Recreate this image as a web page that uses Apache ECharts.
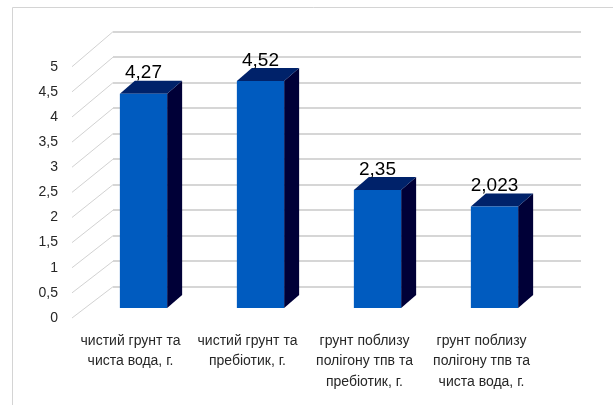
<!DOCTYPE html>
<html>
<head>
<meta charset="utf-8">
<script src="https://cdn.jsdelivr.net/npm/echarts@6/dist/echarts.min.js"></script>
<style>
  html, body { margin: 0; padding: 0; background: #ffffff; }
  #chart { width: 613px; height: 405px; }
</style>
</head>
<body>
<div id="chart"></div>
<script>
// Categories and measured values
const categories = [
  'чистий грунт та\nчиста вода, г.',
  'чистий грунт та\nпребіотик, г.',
  'грунт поблизу\nполігону тпв та\nпребіотик, г.',
  'грунт поблизу\nполігону тпв та\nчиста вода, г.'
];
const values = [4.27, 4.52, 2.35, 2.023];
const tickValues = [0, 0.5, 1, 1.5, 2, 2.5, 3, 3.5, 4, 4.5, 5];

const FONT = "'Liberation Sans Narrow', 'Liberation Sans', sans-serif";
const comma = v => String(v).replace('.', ',');

// 3D box styling
const DEPTH_X = 15, DEPTH_Y = 13, BAR_RATIO = 0.404;
const FRONT = '#005bbf', TOP = '#00226a', SIDE = '#000037';

const chart = echarts.init(document.getElementById('chart'), null, { renderer: 'canvas' });

// Pixel position on the back wall for a value (left edge of the wall)
function backPoint(v) {
  try { return chart.convertToPixel({ xAxisIndex: 1, yAxisIndex: 1 }, [0, v]); }
  catch (e) { return null; }
}

const option = {
  animation: false,
  backgroundColor: '#ffffff',
  graphic: [{
    type: 'rect', silent: true, z: -10,
    shape: { x: 12.5, y: 7.5, width: 700, height: 500 },
    style: { fill: 'none', stroke: '#d4d4d4', lineWidth: 1 }
  }],
  grid: [
    // bars (front faces)
    { left: 85, right: 60, top: 57, bottom: 97 },
    // back wall
    { left: 113, right: 32, top: 31.7, bottom: 118.3 },
    // front floor edge: tick labels and category labels
    { left: 72, right: 73, top: 66.7, bottom: 87 }
  ],
  xAxis: [
    { gridIndex: 0, type: 'category', data: categories, show: false },
    { gridIndex: 1, type: 'value', min: 0, max: 1, show: false },
    {
      gridIndex: 2, type: 'category', data: categories,
      axisLine: { show: false }, axisTick: { show: false },
      axisLabel: {
        interval: 0, margin: 12.5, color: '#262626',
        fontFamily: FONT, fontSize: 14, lineHeight: 20.5
      }
    }
  ],
  yAxis: [
    { gridIndex: 0, type: 'value', min: 0, max: 5, interval: 0.5, show: false },
    {
      gridIndex: 1, type: 'value', min: 0, max: 5, interval: 0.5,
      axisLine: { show: false }, axisTick: { show: false }, axisLabel: { show: false },
      splitLine: { show: true, lineStyle: { color: '#d6d6d6', width: 2 } }
    },
    {
      gridIndex: 2, type: 'value', min: 0, max: 5, interval: 0.5,
      axisLine: { show: false }, axisTick: { show: false },
      splitLine: { show: false },
      axisLabel: {
        margin: 14, color: '#262626', fontFamily: FONT, fontSize: 14,
        formatter: comma
      }
    }
  ],
  series: [
    {
      // diagonal wall edges from the floor front to the back wall
      id: 'diag',
      type: 'custom',
      xAxisIndex: 2, yAxisIndex: 2,
      silent: true, z: 1,
      data: tickValues.map(v => [0, v]),
      renderItem(params, api) {
        const v = api.value(1);
        const p = api.coord([0, v]);
        const x0 = p[0] - api.size([1, 0])[0] / 2;
        const end = backPoint(v);
        if (!end) return null;
        return {
          type: 'line',
          shape: { x1: x0, y1: p[1], x2: end[0], y2: end[1] },
          style: { stroke: '#d2d2d2', lineWidth: 1 }
        };
      }
    },
    {
      id: 'bars',
      type: 'custom',
      xAxisIndex: 0, yAxisIndex: 0,
      z: 3,
      data: values.map((v, i) => [i, v]),
      renderItem(params, api) {
        const i = api.value(0), v = api.value(1);
        const top = api.coord([i, v]);
        const base = api.coord([i, 0]);
        const w = api.size([1, 0])[0] * BAR_RATIO;
        const xl = top[0] - w / 2, xr = top[0] + w / 2;
        const yt = top[1], yb = base[1];
        return {
          type: 'group',
          children: [
            {
              type: 'polygon',
              shape: { points: [[xr, yt], [xr + DEPTH_X, yt - DEPTH_Y], [xr + DEPTH_X, yb - DEPTH_Y], [xr, yb]] },
              style: { fill: SIDE }
            },
            {
              type: 'polygon',
              shape: { points: [[xl, yt], [xl + DEPTH_X, yt - DEPTH_Y], [xr + DEPTH_X, yt - DEPTH_Y], [xr, yt]] },
              style: { fill: TOP }
            },
            {
              type: 'rect',
              shape: { x: xl, y: yt, width: w, height: yb - yt },
              style: { fill: FRONT }
            },
            {
              type: 'text',
              style: {
                x: top[0], y: yt - 20.5,
                text: comma(v),
                fill: '#000000', font: '19px ' + FONT,
                align: 'center', verticalAlign: 'middle'
              }
            }
          ]
        };
      }
    }
  ]
};

chart.setOption(option);
// redraw the diagonals now that the back-wall coordinates are available
chart.setOption({ series: [{ id: 'diag', data: tickValues.map(v => [0, v]) }] });
</script>
</body>
</html>
